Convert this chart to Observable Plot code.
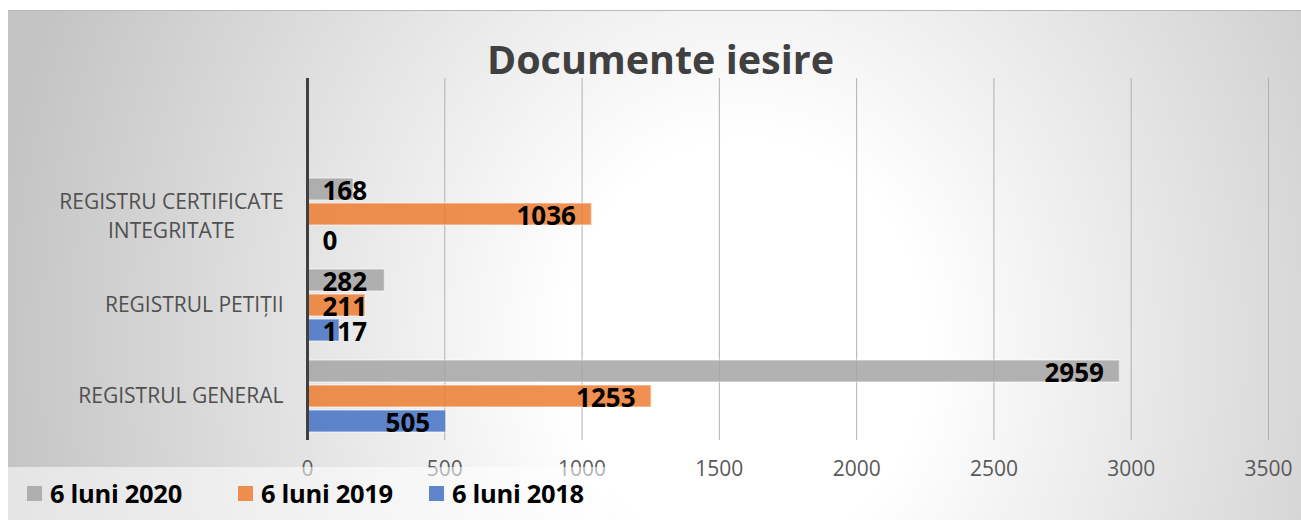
<!DOCTYPE html>
<html>
<head>
<meta charset="utf-8">
<script src="https://cdn.jsdelivr.net/npm/d3@7"></script>
<script src="https://cdn.jsdelivr.net/npm/@observablehq/plot@0.6"></script>
<style>
  html, body { margin: 0; padding: 0; background: #fff; }
  #wrap {
    position: absolute; left: 8px; top: 10px; width: 1293px; height: 510px;
    border-top: 1px solid #b8b8b8; box-sizing: border-box;
    background: radial-gradient(ellipse 58% 170% at 57% 66%, #ffffff 0%, #ffffff 24%, #c4c4c4 100%);
    font-family: "Open Sans", sans-serif; overflow: hidden;
  }
  #title {
    height: 67px; box-sizing: border-box; padding-top: 29px; line-height: 39px;
    font-size: 39.5px; font-weight: 700; color: #404040; text-align: center;
    padding-left: 12px; white-space: nowrap;
  }
  #chart svg { display: block; }
  #legend {
    position: relative; margin-top: -15px; width: 600px; height: 60px;
    background: rgba(255,255,255,0.55); display: flex; align-items: flex-start;
    padding-left: 19px; padding-top: 10px; box-sizing: border-box;
  }
  .item { display: flex; align-items: center; font-weight: 700; font-size: 25.5px; color: #000; line-height: 32px; letter-spacing: -0.3px; }
  .sw { width: 15px; height: 15px; margin-right: 8px; }
</style>
</head>
<body>
<div id="wrap">
  <div id="title">Documente iesire</div>
  <div id="chart"></div>
  <div id="legend"></div>
</div>
<script>
const categories = ["REGISTRU CERTIFICATE\nINTEGRITATE", "REGISTRUL PETIȚII", "REGISTRUL GENERAL"];
const series = ["6 luni 2020", "6 luni 2019", "6 luni 2018"];
const values2020 = [168, 282, 2959];
const values2019 = [1036, 211, 1253];
const values2018 = [0, 117, 505];
const seriesColors = ["#a5a5a5", "#ed7d31", "#4472c4"];
const xTicks = [0, 500, 1000, 1500, 2000, 2500, 3000, 3500];

const seriesValues = [values2020, values2019, values2018];
const data = [];
series.forEach((s, si) => categories.forEach((c, ci) => data.push({series: s, category: c, value: seriesValues[si][ci]})));

// position of each series bar inside a category band (top, middle, bottom)
const insets = [[0, 50], [25, 25], [50, 0]];
const labelDy = [-23, 2, 27];

const marks = [];
marks.push(Plot.ruleX(xTicks.slice(1), {stroke: "#b0b0b0", strokeWidth: 1}));
series.forEach((s, i) => {
  const d = data.filter(r => r.series === s);
  marks.push(Plot.barX(d, {
    x: "value", y: "category", fill: seriesColors[i], fillOpacity: 0.85,
    stroke: "#ffffff", strokeOpacity: 0.45, strokeWidth: 1.5,
    insetTop: insets[i][0], insetBottom: insets[i][1]
  }));
});
marks.push(Plot.ruleX([0], {stroke: "#404040", strokeWidth: 3}));
series.forEach((s, i) => {
  const d = data.filter(r => r.series === s);
  marks.push(Plot.text(d.filter(r => r.value >= 300), {
    x: "value", y: "category", text: r => String(r.value), textAnchor: "end", dx: -16, dy: labelDy[i],
    fill: "#000", fontWeight: "bold", fontSize: 26, fontFamily: "Open Sans"
  }));
  marks.push(Plot.text(d.filter(r => r.value < 300), {
    x: 0, y: "category", text: r => String(r.value), textAnchor: "start", dx: 15, dy: labelDy[i],
    fill: "#000", fontWeight: "bold", fontSize: 26, fontFamily: "Open Sans"
  }));
});
// category labels
marks.push(Plot.text(categories.filter(c => !c.includes("\n")), {
  y: d => d, text: d => d, frameAnchor: "left", textAnchor: "end", dx: -24,
  fill: "#505050", fontSize: 21, fontFamily: "Open Sans"
}));
marks.push(Plot.text(categories.filter(c => c.includes("\n")), {
  y: d => d, text: d => d, frameAnchor: "left", textAnchor: "middle", dx: -136, lineHeight: 1.35,
  fill: "#505050", fontSize: 21, fontFamily: "Open Sans"
}));

const chart = Plot.plot({
  width: 1293,
  height: 404,
  marginLeft: 299,
  marginRight: 33,
  marginTop: 0,
  marginBottom: 42,
  style: {background: "transparent", fontFamily: "Open Sans", fontSize: "21px", color: "#595959", overflow: "visible"},
  x: {domain: [0, 3500], ticks: xTicks, tickSize: 0, tickPadding: 21, tickFormat: d => String(d), label: null},
  y: {domain: categories, range: [99, 356], paddingInner: 0.2065, paddingOuter: 0, axis: null},
  marks
});
document.getElementById("chart").appendChild(chart);

const legend = document.getElementById("legend");
const legendGaps = [56, 36, 0];
series.forEach((s, i) => {
  const it = document.createElement("div");
  it.className = "item";
  it.style.marginRight = legendGaps[i] + "px";
  const sw = document.createElement("div");
  sw.className = "sw";
  sw.style.background = seriesColors[i];
  sw.style.opacity = 0.85;
  it.appendChild(sw);
  const t = document.createElement("span");
  t.textContent = s;
  it.appendChild(t);
  legend.appendChild(it);
});
</script>
</body>
</html>
